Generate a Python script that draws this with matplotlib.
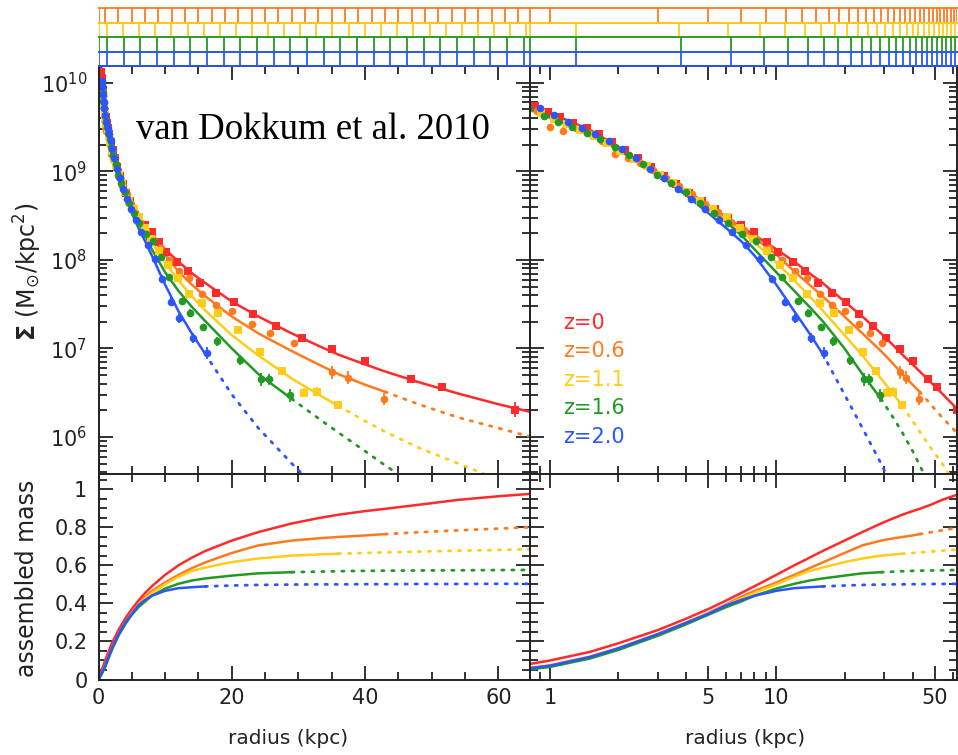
# Surface density profiles and assembled mass vs radius for five redshift bins.
import numpy as np
import matplotlib
matplotlib.use('Agg')
import matplotlib.pyplot as plt
from matplotlib.ticker import MultipleLocator, FixedLocator, LogLocator, NullFormatter, FuncFormatter

plt.rcParams['font.family'] = ['DejaVu Sans']
plt.rcParams['mathtext.default'] = 'regular'

z_labels = ['z=0', 'z=0.6', 'z=1.1', 'z=1.6', 'z=2.0']
colors = ['#ff2a2a', '#ff7a1e', '#ffcc1a', '#229922', '#2a55ff']
markers = ['s', 'o', 's', 'o', 'o']

# fitted profiles, log10 Sigma (Msun/kpc^2)
r_fit = [0.2, 0.5, 0.8, 1, 1.5, 2, 3, 4, 5, 6, 7, 8, 10, 12, 14, 16, 20, 24, 29, 33, 36, 40, 43, 48, 54, 60, 65]
logsig_z0 = [10.45, 10.05, 9.77, 9.66, 9.47, 9.28, 8.99, 8.78, 8.62, 8.48, 8.37, 8.28, 8.12, 7.98, 7.85, 7.74, 7.53, 7.36, 7.17, 7.03, 6.93, 6.82, 6.74, 6.62, 6.49, 6.37, 6.28]
logsig_z06 = [10.35, 10.0, 9.73, 9.63, 9.44, 9.26, 8.97, 8.77, 8.61, 8.47, 8.35, 8.25, 8.06, 7.87, 7.72, 7.59, 7.36, 7.17, 6.97, 6.82, 6.71, 6.59, 6.51, 6.37, 6.22, 6.10, 6.00]
logsig_z11 = [10.3, 9.97, 9.70, 9.60, 9.42, 9.24, 8.96, 8.76, 8.60, 8.45, 8.32, 8.20, 7.97, 7.77, 7.59, 7.43, 7.15, 6.92, 6.66, 6.48, 6.35, 6.18, 6.06, 5.88, 5.70, 5.52, 5.38]
logsig_z16 = [10.3, 9.97, 9.71, 9.61, 9.42, 9.25, 8.96, 8.75, 8.58, 8.43, 8.28, 8.12, 7.86, 7.65, 7.47, 7.31, 7.00, 6.71, 6.43, 6.21, 6.05, 5.84, 5.68, 5.43, 5.15, 4.88, 4.67]
logsig_z20 = [10.35, 10.02, 9.77, 9.66, 9.45, 9.27, 8.97, 8.73, 8.53, 8.36, 8.21, 8.05, 7.72, 7.42, 7.17, 6.94, 6.48, 6.10, 5.70, 5.40, 5.20, 4.95, 4.78, 4.50, 4.20, 3.90, 3.70]
fit_rmax = [65, 43, 36, 29, 16]  # solid up to here, dotted beyond

# measured profiles
r_pts_z0 = [0.45, 0.51, 0.58, 0.66, 0.75, 0.86, 0.98, 1.11, 1.27, 1.45, 1.65, 1.88, 2.15, 2.45, 2.79, 3.18, 3.62, 4.13, 4.71, 5.37, 6.12, 6.98, 7.96, 9.06, 10.15, 11.8, 13.4, 15.3, 17.7, 20.3, 23.2, 26.6, 30.6, 35.0, 40.0, 46.9, 51.5, 62.5]
sig_pts_z0 = [10.12, 10.05, 9.98, 9.90, 9.82, 9.74, 9.67, 9.61, 9.55, 9.49, 9.42, 9.33, 9.24, 9.15, 9.05, 8.95, 8.86, 8.76, 8.67, 8.57, 8.47, 8.39, 8.31, 8.20, 8.09, 7.98, 7.87, 7.74, 7.63, 7.52, 7.39, 7.25, 7.12, 6.99, 6.86, 6.66, 6.57, 6.31]
err_pts_z0 = [0.03, 0.02, 0.02, 0.02, 0.02, 0.02, 0.02, 0.02, 0.02, 0.02, 0.02, 0.02, 0.02, 0.02, 0.02, 0.02, 0.02, 0.02, 0.02, 0.02, 0.02, 0.02, 0.02, 0.02, 0.02, 0.02, 0.02, 0.02, 0.02, 0.02, 0.02, 0.02, 0.025, 0.03, 0.04, 0.04, 0.03, 0.08]

r_pts_z06 = [0.52, 0.60, 0.68, 0.77, 0.88, 1.0, 1.14, 1.3, 1.48, 1.69, 1.93, 2.2, 2.51, 2.86, 3.26, 3.72, 4.24, 4.83, 5.51, 6.28, 7.16, 8.16, 9.3, 10.6, 12.1, 13.6, 15.6, 17.6, 20.0, 23.1, 25.8, 29.3, 35.0, 37.4, 42.8]
sig_pts_z06 = [9.99, 9.92, 9.85, 9.77, 9.68, 9.50, 9.46, 9.49, 9.43, 9.34, 9.20, 9.15, 9.09, 9.01, 8.92, 8.83, 8.74, 8.63, 8.54, 8.43, 8.34, 8.24, 8.13, 8.00, 7.87, 7.80, 7.62, 7.49, 7.42, 7.28, 7.18, 7.06, 6.73, 6.67, 6.43]
err_pts_z06 = [0.02, 0.02, 0.02, 0.02, 0.02, 0.04, 0.04, 0.02, 0.02, 0.02, 0.02, 0.04, 0.02, 0.02, 0.02, 0.02, 0.02, 0.02, 0.02, 0.02, 0.02, 0.02, 0.02, 0.02, 0.02, 0.02, 0.02, 0.02, 0.02, 0.03, 0.03, 0.04, 0.07, 0.07, 0.07]

r_pts_z11 = [0.53, 0.6, 0.69, 0.79, 0.91, 1.04, 1.19, 1.36, 1.56, 1.78, 2.04, 2.34, 2.68, 3.06, 3.51, 4.02, 4.6, 5.27, 6.03, 6.91, 7.91, 9.06, 10.4, 11.9, 13.6, 15.6, 17.9, 21.0, 24.2, 27.5, 30.8, 32.8, 36.0]
sig_pts_z11 = [9.98, 9.92, 9.84, 9.74, 9.66, 9.59, 9.53, 9.47, 9.40, 9.32, 9.23, 9.14, 9.06, 8.96, 8.87, 8.77, 8.67, 8.58, 8.48, 8.36, 8.24, 8.10, 7.94, 7.80, 7.62, 7.51, 7.40, 7.21, 6.96, 6.75, 6.50, 6.51, 6.36]
err_pts_z11 = [0.02, 0.02, 0.02, 0.02, 0.02, 0.02, 0.02, 0.02, 0.02, 0.02, 0.02, 0.02, 0.02, 0.02, 0.02, 0.02, 0.02, 0.02, 0.02, 0.02, 0.02, 0.02, 0.02, 0.02, 0.02, 0.02, 0.02, 0.02, 0.03, 0.03, 0.05, 0.05, 0.04]

r_pts_z16 = [0.53, 0.61, 0.70, 0.81, 0.94, 1.09, 1.25, 1.45, 1.67, 1.93, 2.23, 2.58, 2.98, 3.44, 3.97, 4.59, 5.3, 6.12, 7.07, 8.16, 9.45, 10.6, 12.5, 13.8, 15.7, 17.8, 21.2, 24.4, 25.6, 28.7]
sig_pts_z16 = [9.97, 9.88, 9.79, 9.71, 9.63, 9.56, 9.50, 9.43, 9.36, 9.27, 9.18, 9.08, 8.96, 8.87, 8.77, 8.64, 8.53, 8.42, 8.29, 8.21, 8.03, 7.81, 7.54, 7.40, 7.24, 7.08, 6.87, 6.65, 6.65, 6.47]
err_pts_z16 = [0.02, 0.02, 0.02, 0.02, 0.02, 0.02, 0.02, 0.02, 0.02, 0.02, 0.02, 0.02, 0.02, 0.02, 0.02, 0.02, 0.02, 0.02, 0.02, 0.02, 0.03, 0.03, 0.03, 0.04, 0.04, 0.05, 0.06, 0.07, 0.06, 0.07]

r_pts_z20 = [0.52, 0.59, 0.68, 0.79, 0.9, 1.04, 1.2, 1.38, 1.58, 1.82, 2.09, 2.4, 2.77, 3.18, 3.66, 4.21, 4.84, 5.56, 6.4, 7.36, 8.46, 9.55, 10.9, 12.1, 14.2, 16.3]
sig_pts_z20 = [10.02, 9.95, 9.86, 9.78, 9.72, 9.64, 9.56, 9.49, 9.42, 9.34, 9.25, 9.15, 9.03, 8.93, 8.80, 8.69, 8.58, 8.45, 8.31, 8.17, 8.01, 7.79, 7.53, 7.34, 7.12, 6.95]
err_pts_z20 = [0.02, 0.02, 0.02, 0.02, 0.02, 0.02, 0.02, 0.02, 0.02, 0.02, 0.02, 0.02, 0.02, 0.02, 0.02, 0.02, 0.02, 0.02, 0.02, 0.03, 0.03, 0.04, 0.05, 0.05, 0.06, 0.07]

# assembled mass (fraction of z=0 total)
r_mass = [0, 0.5, 0.8, 1, 1.5, 2, 3, 4, 5, 6, 7, 8, 10, 12, 14, 16, 20, 24, 29, 33, 36, 40, 43, 48, 54, 60, 65]
mass_z0 = [0, 0.05, 0.08, 0.10, 0.145, 0.19, 0.26, 0.32, 0.37, 0.415, 0.455, 0.49, 0.55, 0.60, 0.64, 0.675, 0.73, 0.775, 0.82, 0.848, 0.866, 0.885, 0.897, 0.918, 0.944, 0.963, 0.976]
mass_z06 = [0, 0.035, 0.06, 0.075, 0.12, 0.165, 0.24, 0.30, 0.35, 0.395, 0.435, 0.465, 0.51, 0.55, 0.585, 0.615, 0.665, 0.705, 0.73, 0.742, 0.749, 0.757, 0.764, 0.774, 0.784, 0.793, 0.80]
mass_z11 = [0, 0.03, 0.055, 0.07, 0.115, 0.16, 0.235, 0.295, 0.345, 0.39, 0.425, 0.455, 0.50, 0.54, 0.57, 0.588, 0.617, 0.636, 0.651, 0.657, 0.661, 0.665, 0.668, 0.672, 0.677, 0.681, 0.685]
mass_z16 = [0, 0.03, 0.052, 0.066, 0.11, 0.155, 0.23, 0.29, 0.34, 0.38, 0.41, 0.44, 0.478, 0.503, 0.52, 0.531, 0.546, 0.558, 0.564, 0.567, 0.569, 0.571, 0.572, 0.573, 0.574, 0.575, 0.576]
mass_z20 = [0, 0.035, 0.058, 0.072, 0.118, 0.163, 0.238, 0.298, 0.345, 0.39, 0.418, 0.44, 0.466, 0.48, 0.485, 0.489, 0.494, 0.497, 0.499, 0.5, 0.5, 0.501, 0.501, 0.502, 0.502, 0.503, 0.503]

# radial bin edges shown in the strip above the panels (z=0.6, 1.1, 1.6, 2.0)
strip_z06 = [1, 3, 5, 7, 9, 11, 13, 15, 17, 19, 21, 23, 25, 27, 29, 31, 33, 35, 37, 39, 41, 43, 45, 47, 49, 51, 53, 55, 57, 59, 61, 63]
strip_z11 = [1.3, 3.7, 6.1, 8.5, 10.9, 13.4, 15.8, 18.2, 20.6, 23.0, 25.5, 27.9, 30.3, 32.7, 35.1, 37.6, 40.0, 42.4, 44.8, 47.2, 49.7, 52.1, 54.5, 56.9, 59.3, 61.8, 64.2]
strip_z16 = [1.3, 3.8, 6.3, 8.8, 11.3, 13.8, 16.3, 18.8, 21.3, 23.8, 26.3, 28.8, 31.3, 33.8, 36.3, 38.8, 41.3, 43.8, 46.3, 48.8, 51.3, 53.8, 56.3, 58.8, 61.3, 63.8]
strip_z20 = [1.3, 3.8, 6.3, 8.8, 11.3, 13.8, 16.3, 18.8, 21.3, 23.8, 26.3, 28.8, 31.3, 33.8, 36.3, 38.8, 41.3, 43.8, 46.3, 48.8, 51.3, 53.8, 56.3, 58.8, 61.3, 63.8]

fits = [logsig_z0, logsig_z06, logsig_z11, logsig_z16, logsig_z20]
pts_r = [r_pts_z0, r_pts_z06, r_pts_z11, r_pts_z16, r_pts_z20]
pts_s = [sig_pts_z0, sig_pts_z06, sig_pts_z11, sig_pts_z16, sig_pts_z20]
pts_e = [err_pts_z0, err_pts_z06, err_pts_z11, err_pts_z16, err_pts_z20]
masses = [mass_z0, mass_z06, mass_z11, mass_z16, mass_z20]
strips = [strip_z06, strip_z11, strip_z16, strip_z20]

W, H = 958, 755
XLIN = (0, 64.75)
XLOG = (0.816, 62.8)
YSIG = (10 ** 5.582, 10 ** 10.19)
YMASS = (0, 1.08)
INK = '#222222'


def px_axes(fig, x0, x1, y0, y1, **kw):
    # place an axes by pixel edges (y measured from the top)
    return fig.add_axes([x0 / W, 1 - y1 / H, (x1 - x0) / W, (y1 - y0) / H], **kw)


def style(ax):
    for s in ax.spines.values():
        s.set_linewidth(1.4)
        s.set_color(INK)
    ax.tick_params(which='both', direction='in', top=True, right=True,
                   colors=INK, width=1.3, labelsize=15)
    ax.tick_params(which='major', length=10)
    ax.tick_params(which='minor', length=5.5)
    ax.tick_params(axis='y', pad=8)
    ax.tick_params(axis='x', pad=6)


def log_x(ax):
    ax.set_xscale('log')
    ax.set_xlim(*XLOG)
    ax.xaxis.set_major_locator(FixedLocator([1, 5, 10, 50]))
    ax.xaxis.set_minor_locator(FixedLocator([0.9, 2, 3, 4, 6, 7, 8, 9, 20, 30, 40, 60]))
    ax.xaxis.set_minor_formatter(NullFormatter())


def lin_x(ax):
    ax.set_xlim(*XLIN)
    ax.xaxis.set_major_locator(MultipleLocator(20))
    ax.xaxis.set_minor_locator(MultipleLocator(5))


def draw_profiles(ax):
    r = np.array(r_fit)
    for i in range(5):
        s = 10 ** np.array(fits[i])
        solid = r <= fit_rmax[i]
        dotted = r >= fit_rmax[i]
        ax.plot(r[solid], s[solid], color=colors[i], lw=1.8)
        ax.plot(r[dotted], s[dotted], color=colors[i], lw=2.0, ls=(0, (0.8, 2.8)),
                dash_capstyle='round')
    for i in range(5):
        lg = np.array(pts_s[i])
        e = np.array(pts_e[i])
        s = 10 ** lg
        yerr = [s - 10 ** (lg - e), 10 ** (lg + e) - s]
        ax.errorbar(pts_r[i], s, yerr=yerr, fmt=markers[i], color=colors[i], ms=5.5,
                    mew=0, elinewidth=1.3, capsize=3, capthick=1.3)
    ax.set_yscale('log')
    ax.set_ylim(*YSIG)
    ax.yaxis.set_major_locator(LogLocator(base=10, numticks=20))
    ax.yaxis.set_minor_locator(LogLocator(base=10, subs=np.arange(2, 10), numticks=20))
    ax.yaxis.set_minor_formatter(NullFormatter())


def draw_mass(ax, log_axis):
    r = np.array(r_mass)
    for i in range(5):
        m = np.array(masses[i])
        keep = r > 0 if log_axis else r >= 0
        solid = keep & (r <= fit_rmax[i])
        dotted = keep & (r >= fit_rmax[i])
        ax.plot(r[solid], m[solid], color=colors[i], lw=1.8)
        ax.plot(r[dotted], m[dotted], color=colors[i], lw=2.0, ls=(0, (0.8, 2.8)),
                dash_capstyle='round')
    ax.set_ylim(*YMASS)
    ax.yaxis.set_major_locator(MultipleLocator(0.2))
    ax.yaxis.set_minor_locator(MultipleLocator(0.05))


def draw_strip(ax, x_edges):
    ax.set_ylim(0, 4)
    ax.set_axis_off()
    for i, edges in enumerate(strips):
        col = colors[i + 1]
        y0, y1 = 3 - i, 4 - i
        ax.axhline(y0, color=col, lw=1.3, clip_on=False)
        ax.axhline(y1, color=col, lw=1.3, clip_on=False)
        ax.vlines(edges + x_edges, y0, y1, colors=col, lw=1.3)


fig = plt.figure(figsize=(W / 100, H / 100), dpi=100)

ax_tl = px_axes(fig, 98.5, 530, 66, 474)
ax_tr = px_axes(fig, 530, 957, 66, 474)
ax_bl = px_axes(fig, 98.5, 530, 474, 679.5)
ax_br = px_axes(fig, 530, 957, 474, 679.5)
st_l = px_axes(fig, 98.5, 530, 8, 66, zorder=5)
st_r = px_axes(fig, 530, 957, 8, 66, zorder=5)

for ax in (ax_tl, ax_tr, ax_bl, ax_br):
    style(ax)

draw_profiles(ax_tl)
lin_x(ax_tl)
ax_tl.tick_params(labelbottom=False)

draw_profiles(ax_tr)
log_x(ax_tr)
ax_tr.tick_params(labelbottom=False, labelleft=False)

draw_mass(ax_bl, False)
lin_x(ax_bl)
ax_bl.yaxis.set_major_formatter(FuncFormatter(lambda v, p: '%g' % round(v, 2)))

draw_mass(ax_br, True)
log_x(ax_br)
ax_br.xaxis.set_major_formatter(FuncFormatter(lambda v, p: '%g' % v))
ax_br.tick_params(labelleft=False)

st_l.set_xlim(*XLIN)
draw_strip(st_l, [XLIN[0], XLIN[1]])
st_r.set_xscale('log')
st_r.set_xlim(*XLOG)
draw_strip(st_r, [XLOG[0]])

# labels
fig.text(313 / W, 1 - 130 / H, 'van Dokkum et al. 2010', family='Liberation Serif',
         fontsize=26.5, ha='center', va='center', color='black')
legend_y = [323, 351, 380, 408, 437]
for i in range(5):
    fig.text(563 / W, 1 - legend_y[i] / H, z_labels[i], color=colors[i], fontsize=15,
             ha='left', va='center')

fig.text(28 / W, 1 - 272 / H, r'$\mathbf{\Sigma}$ (M$_{\odot}$/kpc$^{2}$)', rotation=90,
         fontsize=17, ha='center', va='center', color=INK)
fig.text(27 / W, 1 - 578 / H, 'assembled mass', rotation=90, fontsize=17,
         ha='center', va='center', color=INK)
fig.text(288 / W, 1 - 739 / H, 'radius (kpc)', fontsize=14.5, ha='center', va='center', color=INK)
fig.text(745 / W, 1 - 739 / H, 'radius (kpc)', fontsize=14.5, ha='center', va='center', color=INK)

fig.savefig('out.png', dpi=100)
